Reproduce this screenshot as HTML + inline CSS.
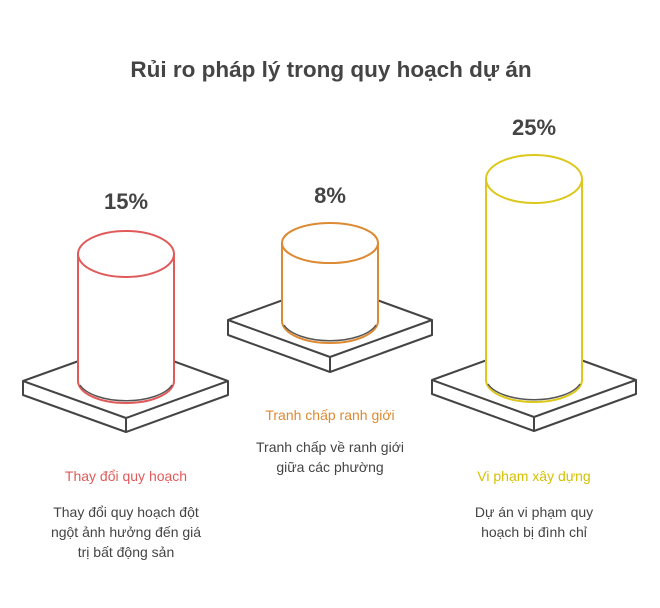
<!DOCTYPE html>
<html><head><meta charset="utf-8"><style>
html,body{margin:0;padding:0;background:#fff;}
svg{display:block;}
text{font-family:"Liberation Sans",sans-serif;}
</style></head><body>
<svg width="660" height="608" viewBox="0 0 660 608" xmlns="http://www.w3.org/2000/svg">
<rect width="660" height="608" fill="#fff"/>
<text x="331" y="77" text-anchor="middle" font-size="22.5" font-weight="bold" fill="#444">Rủi ro pháp lý trong quy hoạch dự án</text>

<g fill="#fff" stroke="#444" stroke-width="2" stroke-linejoin="round">
  <path d="M23,381 L126,344 L228,381 L228,395 L126,432 L23,395 Z"/>
  <path d="M23,381 L126,418 L228,381 M126,418 L126,432"/>
  <path d="M228,320 L330,283 L432,320 L432,335 L330,372 L228,335 Z"/>
  <path d="M228,320 L330,357 L432,320 M330,357 L330,372"/>
  <path d="M432,380 L534,343 L636,380 L636,394 L534,431 L432,394 Z"/>
  <path d="M432,380 L534,417 L636,380 M534,417 L534,431"/>
</g>

<g stroke-width="2" fill="#fff">
  <path d="M78,254 L78,381 A48,22 0 0 0 174,381 L174,254 Z" stroke="#e05a5a"/>
  <path d="M80,385 A48,22 0 0 0 172,385" stroke="#555" fill="none" stroke-width="1.5"/>
  <ellipse cx="126" cy="254" rx="48" ry="23" stroke="#e05a5a"/>

  <path d="M282,243 L282,321 A48,22 0 0 0 378,321 L378,243 Z" stroke="#dc8a33"/>
  <path d="M284,325 A48,22 0 0 0 376,325" stroke="#555" fill="none" stroke-width="1.5"/>
  <ellipse cx="330" cy="243" rx="48" ry="20" stroke="#dc8a33"/>

  <path d="M486,179 L486,380 A48,22 0 0 0 582,380 L582,179 Z" stroke="#dcc81a"/>
  <path d="M488,384 A48,22 0 0 0 580,384" stroke="#555" fill="none" stroke-width="1.5"/>
  <ellipse cx="534" cy="179" rx="48" ry="24" stroke="#dcc81a"/>
</g>

<g font-size="22" font-weight="bold" fill="#444" text-anchor="middle">
  <text x="126" y="209">15%</text>
  <text x="330" y="203">8%</text>
  <text x="534" y="135">25%</text>
</g>

<g font-size="14" text-anchor="middle">
  <text x="126" y="481" fill="#e05a5a">Thay đổi quy hoạch</text>
  <text x="330" y="420" fill="#dc8a33">Tranh chấp ranh giới</text>
  <text x="534" y="481" fill="#d4c000">Vi phạm xây dựng</text>
</g>
<g font-size="14" text-anchor="middle" fill="#444">
  <text x="126" y="517">Thay đổi quy hoạch đột</text>
  <text x="126" y="537">ngột ảnh hưởng đến giá</text>
  <text x="126" y="557">trị bất động sản</text>
  <text x="330" y="452">Tranh chấp về ranh giới</text>
  <text x="330" y="472">giữa các phường</text>
  <text x="534" y="517">Dự án vi phạm quy</text>
  <text x="534" y="537">hoạch bị đình chỉ</text>
</g>
</svg>
</body></html>
